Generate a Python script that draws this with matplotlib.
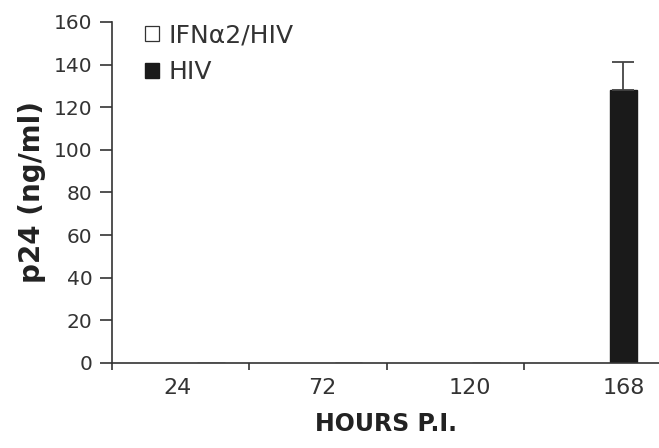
import numpy as np
import matplotlib.pyplot as plt
from matplotlib.patches import Patch

# data
hours = ['24', '72', '120', '168']
ifn_hiv = [0, 0, 0, 0]
hiv = [0, 0, 0, 128]
hiv_err = [0, 0, 0, 13]

fig = plt.figure(figsize=(6.59, 4.48), dpi=100)
ax = fig.add_axes([0.170, 0.190, 0.830, 0.761])

x = np.arange(len(hours))
w = 0.2
ax.bar(x + 0.50, ifn_hiv, w, color='white', edgecolor='none')
ax.bar(x + 0.72, hiv, w, color='#1a1a1a', edgecolor='#1a1a1a')
err = np.array(hiv_err, dtype=float)
mask = err > 0
ax.errorbar((x + 0.72)[mask], np.array(hiv)[mask], yerr=[np.zeros(mask.sum()), err[mask]],
            fmt='none', ecolor='#444444', elinewidth=1.3, capsize=8, capthick=1.3)

ax.set_xlim(0, 3.98)
ax.set_ylim(0, 160)
ax.set_yticks(np.arange(0, 161, 20))

# category boundaries as small ticks, labels placed under the groups
ax.set_xticks(np.arange(0, 4), minor=True)
ax.set_xticks([0.48, 1.53, 2.6, 3.72])
ax.set_xticklabels(hours)
ax.tick_params(axis='x', which='major', length=0, pad=11, labelsize=16, labelcolor='#333333')
ax.tick_params(axis='x', which='minor', length=5, width=1.2, direction='out', color='#333333')
ax.tick_params(axis='y', length=9, width=1.2, pad=5, labelsize=14.5, labelcolor='#333333', color='#333333')

for s in ['top', 'right']:
    ax.spines[s].set_visible(False)
for s in ['left', 'bottom']:
    ax.spines[s].set_linewidth(1.2)
    ax.spines[s].set_color('#333333')

ax.set_ylabel('p24 (ng/ml)', fontsize=20, fontweight='bold', color='#222222', labelpad=6)
ax.set_xlabel('HOURS P.I.', fontsize=17, fontweight='bold', color='#222222', labelpad=10)

handles = [Patch(facecolor='white', edgecolor='#333333', lw=0.9),
           Patch(facecolor='#1a1a1a', edgecolor='#1a1a1a')]
ax.legend(handles, ['IFN\u03b12/HIV', 'HIV'], loc='upper left', bbox_to_anchor=(0.06, 0.995),
          frameon=False, fontsize=18, handlelength=0.55, handleheight=0.55, handletextpad=0.4,
          labelspacing=0.5, borderpad=0, borderaxespad=0, labelcolor='#333333')

fig.savefig('out.png', dpi=100)
